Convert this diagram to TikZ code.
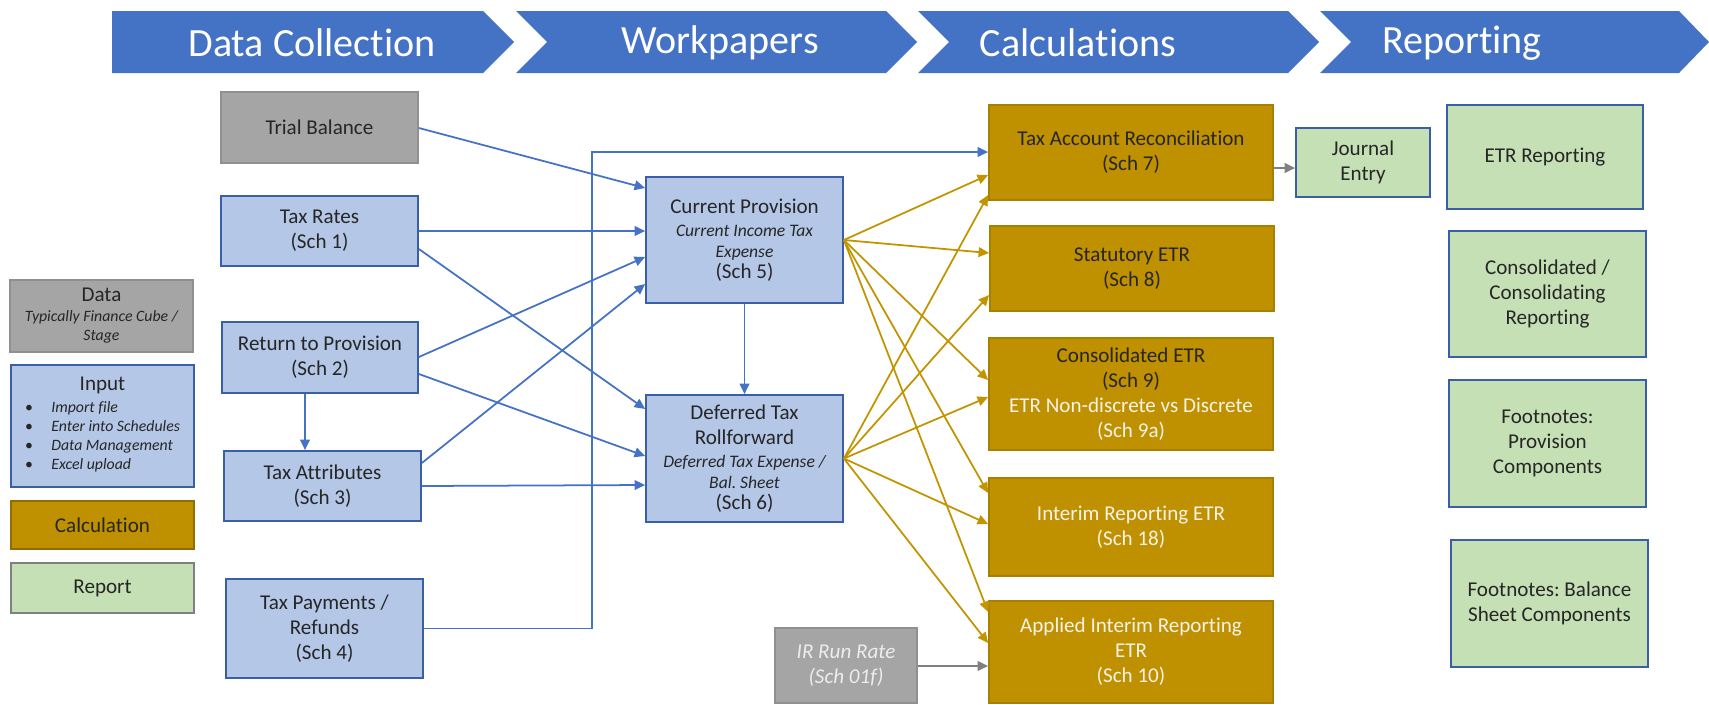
\documentclass[tikz,border=0pt]{standalone}
\usepackage{fontspec}
\setmainfont[Ligatures=NoCommon]{Carlito}
\frenchspacing
\usetikzlibrary{arrows.meta}
\definecolor{chev}{HTML}{4472C4}
\definecolor{lblue}{HTML}{B4C7E7}
\definecolor{bborder}{HTML}{3A5FA6}
\definecolor{gfill}{HTML}{A5A5A5}
\definecolor{gborder}{HTML}{909090}
\definecolor{goldfill}{HTML}{BF9000}
\definecolor{goldb}{HTML}{A88000}
\definecolor{rgreen}{HTML}{C5E0B4}
\definecolor{txt}{HTML}{262626}
\definecolor{lighttxt}{HTML}{F7F3E8}
\definecolor{irtxt}{HTML}{EDEDED}
\definecolor{arrblue}{HTML}{4472C4}
\definecolor{arrgold}{HTML}{C29500}
\definecolor{arrgray}{HTML}{808080}
\newdimen\pxu \pxu=0.02cm
\newcommand\subtxt{\fontsize{10}{12}\selectfont\itshape}
\newcommand\legtxt{\fontsize{9}{10.8}\selectfont\itshape}
\begin{document}
\begin{tikzpicture}[x=0.02cm, y=-0.02cm,
  box/.style={draw, line width=1pt, inner sep=0pt, align=center, text=txt,
    font=\fontsize{12}{14.2}\selectfont},
  bluebox/.style={box, fill=lblue, draw=bborder},
  graybox/.style={box, fill=gfill, draw=gborder},
  goldbox/.style={box, fill=goldfill, draw=goldb},
  greenbox/.style={box, fill=rgreen, draw=bborder},
  sz/.style n args={2}{minimum width=#1\pxu, minimum height=#2\pxu},
  chevtext/.style={text=white, inner sep=0pt, font=\fontsize{22.8}{27}\selectfont},
  tipstyle/.style={-{Triangle[length=6pt,width=5.5pt]}},
  barrow/.style={draw=arrblue, line width=1pt, tipstyle},
  garrow/.style={draw=arrgold, line width=1pt, tipstyle},
  grarrow/.style={draw=arrgray, line width=1pt, tipstyle}
]
\useasboundingbox (0,0) rectangle (1709,704);
\fill[white] (0,0) rectangle (1709,704);

% header chevrons
\fill[chev] (112,11) -- (483,11) -- (514,42) -- (483,73) -- (112,73) -- cycle;
\fill[chev] (516,11) -- (886,11) -- (917,42) -- (886,73) -- (516,73) -- (547,42) -- cycle;
\fill[chev] (918,11) -- (1288,11) -- (1319,42) -- (1288,73) -- (918,73) -- (949,42) -- cycle;
\fill[chev] (1320,11) -- (1679,11) -- (1709,42) -- (1679,73) -- (1320,73) -- (1351,42) -- cycle;
\node[chevtext] (hdc) at (312,43) {Data Collection};
\node[chevtext] (hwp) at (720,43) {Workpapers};
\node[chevtext] (hca) at (1078,43) {Calculations};
\node[chevtext] (hre) at (1462,43) {Reporting};

% legend
\node[graybox, sz={183}{72}] (ldat) at (101.5,316)
  {Data\\[-2.8pt]{\legtxt Typically Finance Cube /}\\[-3.4pt]{\legtxt Stage}};
\node[bluebox, sz={183}{122}] (linp) at (102.5,426)
  {Input\\[-2pt]{\legtxt\begin{tabular}[t]{@{}l@{\hspace{10.5pt}}l@{}}
  {\upshape\textbullet} & Import file\\
  {\upshape\textbullet} & Enter into Schedules\\
  {\upshape\textbullet} & Data Management\\
  {\upshape\textbullet} & Excel upload\end{tabular}}};
\node[goldbox, draw=goldb!85!black, sz={183}{48}] (lcal) at (102.5,525) {Calculation};
\node[greenbox, draw=gray, sz={183}{50}] (lrep) at (102.5,588) {Report};

% data collection column
\node[graybox, sz={197}{71}] (tb) at (319.5,127.5) {Trial Balance};
\node[bluebox, sz={197}{70}] (tr) at (319.5,231) {Tax Rates\\(Sch 1)};
\node[bluebox, sz={196}{71}] (rp) at (320,357.5) {Return to Provision\\(Sch 2)};
\node[bluebox, sz={197}{70}] (ta) at (322.5,486) {Tax Attributes\\(Sch 3)};
\node[bluebox, sz={197}{99}] (tp) at (324.5,628.5) {Tax Payments /\\Refunds\\(Sch 4)};

% workpapers
\node[bluebox, sz={197}{126}] (cp) at (744.5,240)
  {Current Provision\\[-1.2pt]{\subtxt Current Income Tax}\\[-2.3pt]{\subtxt Expense}\\[-2.3pt](Sch 5)};
\node[bluebox, sz={197}{127}] (dt) at (744.5,458.5)
  {Deferred Tax\\Rollforward\\[-1.2pt]{\subtxt Deferred Tax Expense /}\\[-2.3pt]{\subtxt Bal. Sheet}\\[-2.3pt](Sch 6)};

% calculations
\node[goldbox, sz={284}{95}] (tar) at (1131,152.5) {Tax Account Reconciliation\\(Sch 7)};
\node[goldbox, sz={284}{85}] (se) at (1132,268.5) {Statutory ETR\\(Sch 8)};
\node[goldbox, sz={284}{112}] (ce) at (1131,394)
  {Consolidated ETR\\(Sch 9)\\{\color{lighttxt}ETR Non-discrete vs Discrete}\\{\color{lighttxt}(Sch 9a)}};
\node[goldbox, text=lighttxt, sz={284}{98}] (ie) at (1131,527) {Interim Reporting ETR\\(Sch 18)};
\node[goldbox, text=lighttxt, sz={284}{102}] (ae) at (1131,652) {Applied Interim Reporting\\ETR\\(Sch 10)};
\node[graybox, text=irtxt, font=\fontsize{12}{14.2}\selectfont\itshape, sz={142}{75}] (ir) at (846,665.5) {IR Run Rate\\(Sch 01f)};

% reporting
\node[greenbox, sz={134}{69}] (je) at (1363,162.5) {Journal\\Entry};
\node[greenbox, sz={196}{104}] (er) at (1545,157) {ETR Reporting};
\node[greenbox, sz={197}{126}] (cr) at (1547.5,294) {Consolidated /\\Consolidating\\Reporting};
\node[greenbox, sz={197}{127}] (fp) at (1547.5,443.5) {Footnotes:\\Provision\\Components};
\node[greenbox, sz={197}{127}] (fb) at (1549.5,603.5) {Footnotes: Balance\\Sheet Components};

% blue connectors
\draw[barrow] (tb.east |- 0,128) -- (cp.west |- 0,188);
\draw[barrow] (tr.east |- 0,231) -- (cp.west |- 0,231);
\draw[barrow] (tr.east |- 0,249) -- (dt.west |- 0,409);
\draw[barrow] (rp.east |- 0,357) -- (cp.west |- 0,257);
\draw[barrow] (rp.east |- 0,374) -- (dt.west |- 0,456);
\draw[barrow] (ta.east |- 0,463) -- (cp.west |- 0,284);
\draw[barrow] (ta.east |- 0,486) -- (dt.west |- 0,485);
\draw[barrow] (cp.south) -- (dt.north);
\draw[barrow] (305,0 |- rp.south) -- (305,0 |- ta.north);
\draw[barrow] (tp.east) -| (592,152) -- (tar.west |- 0,152);

% gold connectors
\draw[garrow] (cp.east) -- (tar.west |- 0,175);
\draw[garrow] (cp.east) -- (se.west |- 0,253);
\draw[garrow] (cp.east) -- (ce.west |- 0,380);
\draw[garrow] (cp.east) -- (ie.west |- 0,493);
\draw[garrow] (cp.east) -- (ae.west |- 0,612);
\draw[garrow] (dt.east) -- (tar.west |- 0,195);
\draw[garrow] (dt.east) -- (se.west |- 0,295);
\draw[garrow] (dt.east) -- (ce.west |- 0,397);
\draw[garrow] (dt.east) -- (ie.west |- 0,524);
\draw[garrow] (dt.east) -- (ae.west |- 0,643);

% gray connectors
\draw[grarrow] (tar.east |- 0,168) -- (je.west |- 0,168);
\draw[grarrow] (ir.east |- 0,666) -- (ae.west |- 0,666);
\end{tikzpicture}
\end{document}
